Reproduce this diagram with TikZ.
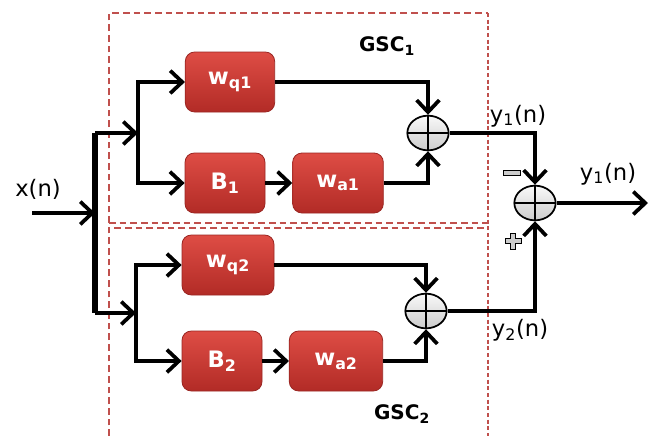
\documentclass[tikz,border=0pt]{standalone}
\usepackage{fontspec}
\setmainfont{DejaVu Sans}
\usetikzlibrary{arrows.meta,shapes.geometric}
\definecolor{boxtop}{HTML}{DE4D45}
\definecolor{boxbot}{HTML}{B22B26}
\definecolor{boxline}{HTML}{9A2622}
\definecolor{framecol}{HTML}{C0504D}

\begin{document}
\begin{tikzpicture}[x=0.75pt,y=-0.75pt,
  >={Straight Barb[length=9pt,width=17pt]},
  blk/.style={rectangle, rounded corners=7pt, draw=boxline, line width=0.6pt, top color=boxtop, bottom color=boxbot, text=white, font=\bfseries\fontsize{17}{20}\selectfont, minimum height=45pt},
  sum/.style={ellipse, draw, line width=1.3pt, minimum width=31pt, minimum height=26pt, inner sep=0pt, top color=gray!5, bottom color=gray!40,
    path picture={\draw[line width=1.3pt] (path picture bounding box.north) -- (path picture bounding box.south) (path picture bounding box.west) -- (path picture bounding box.east);}},
  wire/.style={line width=2.8pt},
  frame/.style={draw=framecol, line width=1.2pt, dash pattern=on 5pt off 3pt},
  lbl/.style={font=\fontsize{17}{20}\selectfont},
  gsc/.style={font=\bfseries\fontsize{15}{18}\selectfont},
  minus/.style={rectangle, draw, line width=0.7pt, fill=gray!40, minimum width=13pt, minimum height=4pt, inner sep=0pt}]
  \useasboundingbox (0,0) rectangle (658,436);

  % dashed frames of the two GSC
  \draw[frame] (109,223) -- (109,13) -- (488,13);
  \draw[frame] (109,223) -- (488,223);
  \draw[frame] (109,436) -- (109,228) -- (488,228);
  \draw[frame, dash pattern=on 3pt off 2pt] (488,13) -- (488,436);

  \node[blk, minimum width=67pt] (wq1) at (230,82) {w\textsubscript{q1}};
  \node[blk, minimum width=60pt] (B1) at (225,183) {B\textsubscript{1}};
  \node[blk, minimum width=68pt] (wa1) at (338,183) {w\textsubscript{a1}};
  \node[blk, minimum width=69pt] (wq2) at (228,265) {w\textsubscript{q2}};
  \node[blk, minimum width=60pt] (B2) at (222,361) {B\textsubscript{2}};
  \node[blk, minimum width=70pt] (wa2) at (336,361) {w\textsubscript{a2}};

  \node[sum] (sum1) at (428,133) {};
  \node[sum] (sum2) at (426,311) {};
  \node[sum] (sumo) at (535,203) {};

  \coordinate (xin) at (32,213);
  \coordinate (fork) at (95,213);
  \coordinate (top) at (95,133);
  \coordinate (bot) at (95,313);
  \coordinate (br1) at (138,133);
  \coordinate (br2) at (136,313);
  \coordinate (yout) at (648,203);

  \draw[wire,->] (xin) -- (fork);
  \draw[wire, line width=4pt] (top) -- (bot);
  \draw[wire,->] (top) -- (br1);
  \draw[wire,->] (bot) -- (br2);
  \draw[wire,->] (br1) |- (wq1.west);
  \draw[wire,->] (br1) |- (B1.west);
  \draw[wire,->] (br2) |- (wq2.west);
  \draw[wire,->] (br2) |- (B2.west);
  \draw[wire,->] (B1) -- (wa1);
  \draw[wire,->] (B2) -- (wa2);

  \draw[wire,->] (wq1) -| (sum1);
  \draw[wire,->] (wa1) -| (sum1);
  \draw[wire,->] (wq2) -| (sum2);
  \draw[wire,->] (wa2) -| (sum2);
  \draw[wire,->] (sum1) -| (sumo);
  \draw[wire,->] (sum2) -| (sumo);
  \draw[wire,->] (sumo) -- (yout);

  \node[lbl] (xlab) at (38,189) {x(n)};
  \node[lbl] (y1lab) at (518,116) {y\textsubscript{1}(n)};
  \node[lbl] (youtlab) at (608,174) {y\textsubscript{1}(n)};
  \node[lbl] (y2lab) at (520,330) {y\textsubscript{2}(n)};
  \node[gsc] (gsc1) at (387,46) {GSC\textsubscript{1}};
  \node[gsc] (gsc2) at (402,414) {GSC\textsubscript{2}};

  \node[minus] (neg) at (512,173) {};
  \filldraw[fill=gray!40, line width=0.7pt, shift={(513,241)}] (-2.5,-8) -- (2.5,-8) -- (2.5,-2.5) -- (8,-2.5) -- (8,2.5) -- (2.5,2.5) -- (2.5,8) -- (-2.5,8) -- (-2.5,2.5) -- (-8,2.5) -- (-8,-2.5) -- (-2.5,-2.5) -- cycle;
\end{tikzpicture}
\end{document}
